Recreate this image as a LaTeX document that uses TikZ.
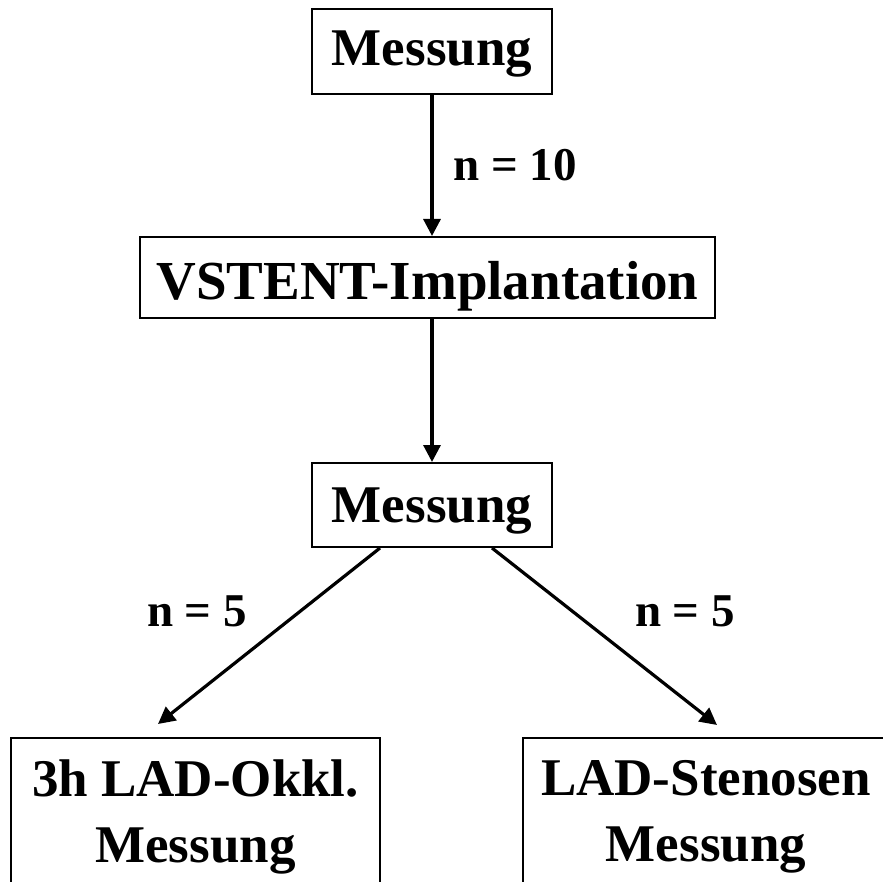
\documentclass[tikz,border=0pt]{standalone}
\usepackage{fontspec}
\setmainfont{Liberation Serif}
\usetikzlibrary{arrows.meta,calc}
\begin{document}
\begin{tikzpicture}[x=1pt,y=-1pt,
  box/.style={draw,line width=2pt,inner sep=0pt,align=center,
    font=\bfseries\fontsize{53}{66}\selectfont},
  lbl/.style={inner sep=0pt,font=\bfseries\fontsize{47}{56}\selectfont},
  conn/.style={line width=3.2pt,-{Triangle[length=17pt,width=17pt]}}]
\clip (0,0) rectangle (883,882);
\useasboundingbox (0,0) rectangle (883,882);
\node[box,minimum width=240pt,minimum height=85pt,text height=40pt,text depth=11pt] (m1) at (432,51.5) {Messung};
\node[box,minimum width=575pt,minimum height=81pt,text height=55pt,text depth=10pt,
  font=\bfseries\fontsize{55}{66}\selectfont] (vs) at (427.5,277.5) {VSTENT-Implantation};
\node[box,minimum width=240pt,minimum height=84pt,text height=44pt,text depth=10pt] (m2) at (432,505) {Messung};
\node[box,minimum width=369pt,minimum height=158pt] (bl) at (195.5,817) {3h LAD-Okkl.\\Messung};
\node[box,minimum width=366pt,minimum height=158pt] (br) at (706,817) {LAD-Stenosen\\Messung};
\draw[conn] (m1.south) -- (m1.south |- vs.north);
\draw[conn] (m2.north |- vs.south) -- (m2.north);
\draw[conn] ($(m2.south)+(-52,0)$) -- ($(bl.north)+(-37.5,-13)$);
\draw[conn] ($(m2.south)+(60,0)$) -- ($(br.north)+(11,-12)$);
\node[lbl] (l1) at (515,165) {n = 10};
\node[lbl] (l2) at (197,611) {n = 5};
\node[lbl] (l3) at (685,611) {n = 5};
\end{tikzpicture}
\end{document}
